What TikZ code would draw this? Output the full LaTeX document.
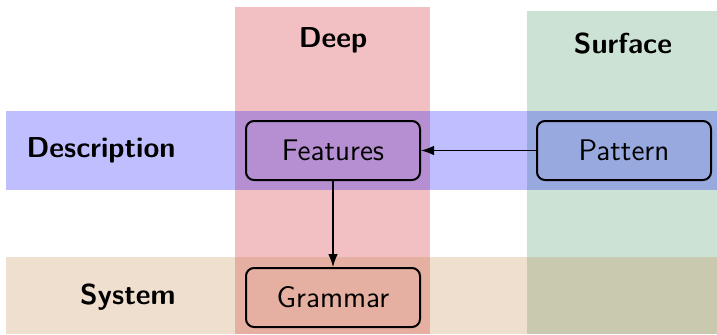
\documentclass[tikz,border=0pt]{standalone}
\usetikzlibrary{arrows.meta}
\definecolor{deepcol}{RGB}{242,192,194}
\definecolor{surfcol}{RGB}{204,226,213}
\begin{document}
\begin{tikzpicture}[x=0.5pt,y=-0.5pt,
  lbl/.style={font=\Large\sffamily\bfseries,inner sep=0pt},
  box/.style={draw,line width=1pt,rounded corners=4pt,minimum width=87pt,minimum height=29.5pt,font=\fontsize{14.9}{18}\sffamily,inner sep=0pt},
  arr/.style={-{Latex[length=6.5pt,width=4.8pt]},line width=0.6pt}]
\useasboundingbox (0,0) rectangle (717,334);
% columns
\fill[deepcol] (235,7) rectangle (430,334);
\fill[surfcol] (527,11) rectangle (717,334);
% rows
\fill[blue,opacity=0.25] (6,111) rectangle (717,190);
\fill[brown,opacity=0.25] (6,257) rectangle (717,334);
% labels
\node[lbl,anchor=base] (deep) at (333,47) {Deep};
\node[lbl,anchor=base] (surf) at (623,53) {Surface};
\node[lbl,anchor=base east] (desc) at (176,157) {Description};
\node[lbl,anchor=base east] (sys) at (176,304) {System};
% nodes
\node[box] (feat) at (333,150.5) {Features};
\node[box] (patt) at (624,150.5) {Pattern};
\node[box] (gram) at (333,297.5) {Grammar};
\draw[arr] (patt) -- (feat);
\draw[arr] (feat) -- (gram);
\end{tikzpicture}
\end{document}
